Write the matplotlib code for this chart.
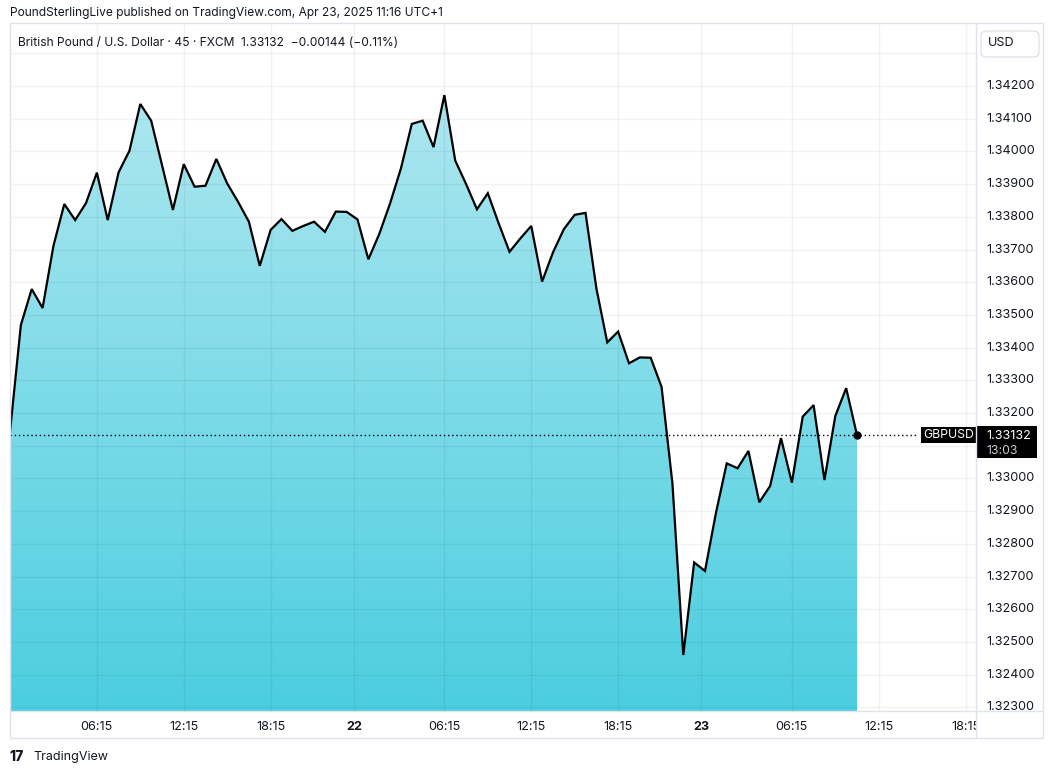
import numpy as np
import pandas as pd
import matplotlib
matplotlib.use("Agg")
from matplotlib import pyplot as plt
import matplotlib.dates as mdates
import matplotlib.transforms as mtransforms
from matplotlib.patches import Rectangle, FancyBboxPatch
from matplotlib.colors import LinearSegmentedColormap

plt.rcParams["font.family"] = ["Inter", "DejaVu Sans"]

# GBPUSD 45 minute closes
times = pd.date_range("2025-04-21 00:15", periods=79, freq="45min")
closes = [
    1.33142, 1.33469, 1.33579, 1.33521, 1.33711, 1.33839, 1.33790, 1.33842,
    1.33935, 1.33790, 1.33936, 1.34002, 1.34145, 1.34094, 1.33958, 1.33821,
    1.33961, 1.33892, 1.33895, 1.33977, 1.33902, 1.33846, 1.33785, 1.33650,
    1.33760, 1.33793, 1.33757, 1.33772, 1.33785, 1.33754, 1.33816, 1.33815,
    1.33792, 1.33670, 1.33747, 1.33841, 1.33948, 1.34084, 1.34094, 1.34013,
    1.34172, 1.33972, 1.33900, 1.33823, 1.33872, 1.33780, 1.33693, 1.33734,
    1.33772, 1.33602, 1.33691, 1.33762, 1.33806, 1.33812, 1.33581, 1.33416,
    1.33449, 1.33352, 1.33370, 1.33369, 1.33280, 1.32985, 1.32460, 1.32743,
    1.32717, 1.32893, 1.33046, 1.33031, 1.33084, 1.32927, 1.32977, 1.33123,
    1.32987, 1.33189, 1.33224, 1.32995, 1.33191, 1.33276, 1.33132,
]

tick_times = ["2025-04-21 06:15", "2025-04-21 12:15", "2025-04-21 18:15",
              "2025-04-22 00:00", "2025-04-22 06:15", "2025-04-22 12:15",
              "2025-04-22 18:15", "2025-04-23 00:00", "2025-04-23 06:15",
              "2025-04-23 12:15", "2025-04-23 18:15"]
tick_labels = ["06:15", "12:15", "18:15", "22", "06:15", "12:15",
               "18:15", "23", "06:15", "12:15", "18:15"]
price_ticks = [1.342, 1.341, 1.340, 1.339, 1.338, 1.337, 1.336, 1.335, 1.334,
               1.333, 1.332, 1.331, 1.330, 1.329, 1.328, 1.327, 1.326, 1.325,
               1.324, 1.323]
grid_prices = [1.343] + price_ticks

last_price = closes[-1]
countdown = "13:03"
caption = "PoundSterlingLive published on TradingView.com, Apr 23, 2025 11:16 UTC+1"
legend = "British Pound / U.S. Dollar · 45 · FXCM  1.33132  \u22120.00144 (\u22120.11%)"

W, H = 1054, 774
def rect(x0, y0, x1, y1):
    return [x0 / W, 1 - y1 / H, (x1 - x0) / W, (y1 - y0) / H]

text_col = "#131722"
border_col = "#e0e3eb"
axis_fs = 9.1

fig = plt.figure(figsize=(W / 100, H / 100), dpi=100)

ax = fig.add_axes(rect(10, 23, 976, 711))
x = mdates.date2num(times)
xmin = mdates.date2num(pd.Timestamp("2025-04-21 00:15"))
xmax = mdates.date2num(pd.Timestamp("2025-04-23 18:58"))
ymin, ymax = 1.322887, 1.343927

# gradient area under the line
cmap = LinearSegmentedColormap.from_list("area", ["#ade7f0", "#4bcee0"])
grad = np.linspace(0, 1, 256).reshape(-1, 1)
im = ax.imshow(grad, cmap=cmap, extent=[xmin, xmax, ymin, max(closes)],
               aspect="auto", origin="upper", zorder=1)
poly = ax.fill_between(x, closes, ymin, facecolor="none", edgecolor="none")
im.set_clip_path(poly.get_paths()[0], transform=ax.transData)

ax.plot(x, closes, color="black", lw=1.6, zorder=4, solid_joinstyle="miter")
ax.plot(x[-1], last_price, "o", color="black", ms=5, zorder=5)

ax.set_xlim(xmin, xmax)
ax.set_ylim(ymin, ymax)
tick_x = mdates.date2num(pd.to_datetime(tick_times))
ax.set_xticks(tick_x)
ax.set_yticks(grid_prices)
ax.tick_params(length=0, labelbottom=False, labelleft=False)
ax.grid(True, color="black", alpha=0.05, lw=1)
ax.set_axisbelow(False)
for s in ax.spines.values():
    s.set_visible(False)

# last price dotted line + symbol label
ax.axhline(last_price, xmin=0, xmax=(918 - 10) / 966, color="black",
           ls=(0, (1, 2)), lw=1, zorder=3)
blend = mtransforms.blended_transform_factory(ax.transAxes, ax.transData)
ax.text(0.9985, last_price, "GBPUSD", transform=blend, ha="right", va="center",
        color="white", fontsize=8.8, zorder=6,
        bbox=dict(boxstyle="square,pad=0.18", fc="black", ec="none"))

# price axis
axp = fig.add_axes(rect(976, 23, 1043, 711))
axp.set_xlim(0, 1)
axp.set_ylim(ymin, ymax)
axp.axis("off")
px_per_unit = (711 - 23) / (ymax - ymin)
box_top = last_price + 9 / px_per_unit
box_bottom = last_price - 23 / px_per_unit
for v in price_ticks:
    # labels hidden under the last price box are not drawn
    if box_bottom - 6 / px_per_unit < v < box_top + 6 / px_per_unit:
        continue
    axp.text(0.15, v, f"{v:.5f}", va="center", ha="left", fontsize=axis_fs,
             color=text_col)
pblend = mtransforms.blended_transform_factory(axp.transAxes, axp.transData)
axp.add_patch(Rectangle((0.0, box_bottom), 0.91, box_top - box_bottom,
                        transform=pblend, fc="black", ec="none", zorder=5))
axp.text(0.15, last_price - 1 / px_per_unit, f"{last_price:.5f}", va="center",
         ha="left", fontsize=axis_fs, color="white", zorder=6)
axp.text(0.15, last_price - 16 / px_per_unit, countdown, va="center",
         ha="left", fontsize=axis_fs - 0.3, color="#c8cad0", zorder=6)

# time axis
axt = fig.add_axes(rect(10, 711, 976, 738))
axt.set_xlim(xmin, xmax)
axt.set_ylim(0, 1)
axt.axis("off")
for tx, lab in zip(tick_x, tick_labels):
    bold = lab.isdigit()
    axt.text(tx, 0.42, lab, ha="center", va="center", fontsize=axis_fs,
             color=text_col, fontweight="bold" if bold else "normal",
             clip_on=True)

# panel frame and separators
fig.patches.append(Rectangle((10 / W, 1 - 738 / H), (1043 - 10) / W, (738 - 23) / H,
                             transform=fig.transFigure, fill=False,
                             ec=border_col, lw=1))
fig.lines.append(plt.Line2D([976 / W, 976 / W], [1 - 23 / H, 1 - 738 / H],
                            transform=fig.transFigure, color=border_col, lw=1))
fig.lines.append(plt.Line2D([10 / W, 1043 / W], [1 - 711 / H, 1 - 711 / H],
                            transform=fig.transFigure, color=border_col, lw=1))

# USD box
fig.patches.append(FancyBboxPatch((981 / W, 1 - 57 / H), 58 / W, 26 / H,
                                  boxstyle="round,pad=0,rounding_size=0.006",
                                  transform=fig.transFigure, fill=False,
                                  ec=border_col, lw=1))
fig.text(988 / W, 1 - 43.5 / H, "USD", ha="left", va="center", fontsize=axis_fs,
         color=text_col)

# header texts
fig.text(10 / W, 1 - 13 / H, caption, ha="left", va="center", fontsize=8.6,
         color=text_col)
fig.text(18 / W, 1 - 43 / H, legend, ha="left", va="center", fontsize=8.65,
         color=text_col)

# footer logo
fig.text(9 / W, 1 - 757 / H, "17", ha="left", va="center", fontsize=10,
         fontweight="heavy", color=text_col)
fig.text(33 / W, 1 - 757 / H, "TradingView", ha="left", va="center",
         fontsize=9, color=text_col)

fig.savefig("out.png", dpi=100)
